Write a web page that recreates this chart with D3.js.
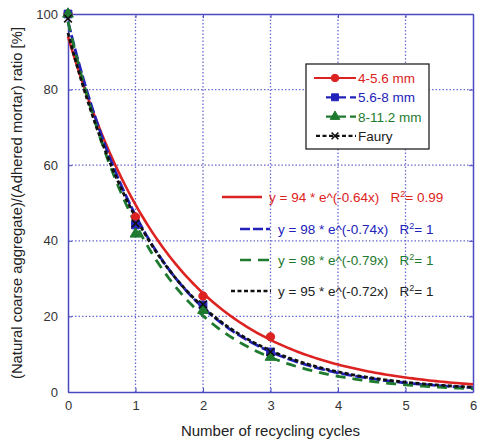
<!DOCTYPE html>
<html>
<head>
<meta charset="utf-8">
<script src="https://cdn.jsdelivr.net/npm/d3@7"></script>
<style>
  body { margin: 0; background: #fff; }
  text { font-family: "Liberation Sans", Arial, sans-serif; }
</style>
</head>
<body>
<div id="chart"></div>
<script>
const WIDTH = 479, HEIGHT = 442;
const MARGIN = { TOP: 14, RIGHT: 5, BOTTOM: 50, LEFT: 68 };

// measured points per size fraction
const cycles = [0, 1, 2, 3];
const red_vals = [100, 46.3, 25.4, 14.6];
const blue_vals = [100, 44.2, 23.0, 10.6];
const green_vals = [100, 41.8, 21.6, 9.2];
const faury_vals = [98.8, 44.6, 23.2, 10.6];

// fitted curves y = a * e^(b x), as printed on the chart
const fit_a = [94, 98, 98, 95];
const fit_b = [-0.64, -0.74, -0.79, -0.72];
const fit_r2 = ["0.99", "1", "1", "1"];

const legend_names = ["4-5.6 mm", "5.6-8 mm", "8-11.2 mm", "Faury"];
const x_ticks = [0, 1, 2, 3, 4, 5, 6];
const y_ticks = [0, 20, 40, 60, 80, 100];

const colors = ["#dd2222", "#2222bb", "#1e7a2e", "#111111"];
const dashes = [null, "11,3", "10,7", "4,2.5"];
const symbols = [d3.symbolCircle, d3.symbolSquare, d3.symbolTriangle, d3.symbolTimes];
const sym_size = [55, 60, 50, 40];

const series = [red_vals, blue_vals, green_vals, faury_vals];

const svg = d3.select("#chart").append("svg")
  .attr("width", WIDTH).attr("height", HEIGHT);

const x = d3.scaleLinear().domain([0, 6]).range([MARGIN.LEFT, WIDTH - MARGIN.RIGHT - 1]);
const y = d3.scaleLinear().domain([0, 100]).range([HEIGHT - MARGIN.BOTTOM, MARGIN.TOP]);

const axisColor = "#4a4ac0";
const gridColor = "#6a6ad0";

// grid
const grid = svg.append("g");
x_ticks.slice(1, -1).forEach(t => {
  grid.append("line")
    .attr("x1", x(t)).attr("x2", x(t)).attr("y1", y(0)).attr("y2", y(100))
    .attr("stroke", gridColor).attr("stroke-width", 1.3).attr("stroke-dasharray", "1.5,2");
});
y_ticks.slice(1, -1).forEach(t => {
  grid.append("line")
    .attr("x1", x(0)).attr("x2", x(6)).attr("y1", y(t)).attr("y2", y(t))
    .attr("stroke", gridColor).attr("stroke-width", 1.3).attr("stroke-dasharray", "1.5,2");
});

// axes box
const fmt = d3.format("d");
const xAxis = svg.append("g")
  .attr("transform", "translate(0," + y(0) + ")")
  .call(d3.axisBottom(x).tickValues(x_ticks).tickFormat(fmt).tickSizeInner(-4).tickSizeOuter(0).tickPadding(9));
const yAxis = svg.append("g")
  .attr("transform", "translate(" + x(0) + ",0)")
  .call(d3.axisLeft(y).tickValues(y_ticks).tickFormat(fmt).tickSizeInner(-4).tickSizeOuter(0).tickPadding(10));
const xTop = svg.append("g")
  .attr("transform", "translate(0," + y(100) + ")")
  .call(d3.axisTop(x).tickValues(x_ticks).tickSizeInner(-4).tickSizeOuter(0).tickFormat(""));
const yRight = svg.append("g")
  .attr("transform", "translate(" + x(6) + ",0)")
  .call(d3.axisRight(y).tickValues(y_ticks).tickSizeInner(-4).tickSizeOuter(0).tickFormat(""));

[xAxis, yAxis, xTop, yRight].forEach(a => {
  a.select(".domain").attr("stroke", axisColor).attr("stroke-width", 1.5);
  a.selectAll(".tick line").attr("stroke", axisColor);
  a.selectAll(".tick text").attr("fill", "#333").style("font-size", "13px")
    .style("font-family", "Liberation Sans, Arial, sans-serif");
});

// fitted curves
const line = d3.line().x(d => x(d[0])).y(d => y(d[1])).curve(d3.curveLinear);
const xs = d3.range(0, 6.001, 0.05);
fit_a.forEach((a, i) => {
  const pts = xs.map(v => [v, a * Math.exp(fit_b[i] * v)]);
  svg.append("path")
    .attr("d", line(pts))
    .attr("fill", "none")
    .attr("stroke", colors[i])
    .attr("stroke-width", i == 0 ? 2.6 : 2.8)
    .attr("stroke-dasharray", dashes[i]);
});

// data markers
series.forEach((vals, i) => {
  svg.append("g").selectAll("path")
    .data(vals)
    .enter().append("path")
    .attr("transform", (d, k) => "translate(" + x(cycles[k]) + "," + y(d) + ")")
    .attr("d", d3.symbol().type(symbols[i]).size(sym_size[i]))
    .attr("fill", i == 3 ? "none" : colors[i])
    .attr("stroke", colors[i])
    .attr("stroke-width", i == 3 ? 1.6 : 1);
});

// legend box
const lg = svg.append("g").attr("transform", "translate(306,64)");
lg.append("rect").attr("width", 123).attr("height", 85)
  .attr("fill", "#fff").attr("stroke", "#222").attr("stroke-width", 1.3);
legend_names.forEach((name, i) => {
  const ly = 14 + i * 19.3;
  const x0 = i == 0 ? 8 : (i == 3 ? 10 : 20);
  lg.append("line").attr("x1", x0).attr("x2", 50).attr("y1", ly).attr("y2", ly)
    .attr("stroke", colors[i]).attr("stroke-width", 2.2)
    .attr("stroke-dasharray", i == 0 ? null : (i == 3 ? "4,2.5" : "8,4"));
  lg.append("path")
    .attr("transform", "translate(29," + ly + ")")
    .attr("d", d3.symbol().type(symbols[i]).size(sym_size[i] * 0.8))
    .attr("fill", i == 3 ? "none" : colors[i])
    .attr("stroke", colors[i]).attr("stroke-width", i == 3 ? 1.6 : 1);
  lg.append("text").attr("x", 52).attr("y", ly + 5)
    .attr("fill", i == 3 ? "#222" : colors[i])
    .style("font-size", "13.5px").text(name);
});

// equation labels
const eq_y = [197, 229, 260, 291];
const eq_x1 = [222, 240, 240, 231];
const eq_x2 = [262, 270, 270, 271];
const eq_text_x = [269, 278, 278, 278];
fit_a.forEach((a, i) => {
  svg.append("line")
    .attr("x1", eq_x1[i]).attr("x2", eq_x2[i]).attr("y1", eq_y[i]).attr("y2", eq_y[i])
    .attr("stroke", colors[i]).attr("stroke-width", 2.6)
    .attr("stroke-dasharray", i == 0 ? null : (i == 1 ? "10,3" : (i == 2 ? "11,7" : "4,2.5")));
  const t = svg.append("text")
    .attr("x", eq_text_x[i]).attr("y", eq_y[i] + 5)
    .attr("fill", i == 3 ? "#222" : colors[i])
    .style("font-size", "13.5px")
    .attr("xml:space", "preserve");
  t.append("tspan").text("y = " + a + " * e^(" + fit_b[i] + "x)   R");
  t.append("tspan").attr("dy", -5).style("font-size", "9px").text("2");
  t.append("tspan").attr("dy", 5).text("= " + fit_r2[i]);
});

// axis titles
svg.append("text")
  .attr("x", (x(0) + x(6)) / 2).attr("y", 436)
  .attr("text-anchor", "middle").attr("fill", "#222")
  .style("font-size", "15px")
  .text("Number of recycling cycles");
svg.append("text")
  .attr("transform", "translate(22," + ((y(0) + y(100)) / 2) + ") rotate(-90)")
  .attr("text-anchor", "middle").attr("fill", "#222")
  .style("font-size", "14.8px")
  .text("(Natural coarse aggregate)/(Adhered mortar) ratio [%]");
</script>
</body>
</html>
